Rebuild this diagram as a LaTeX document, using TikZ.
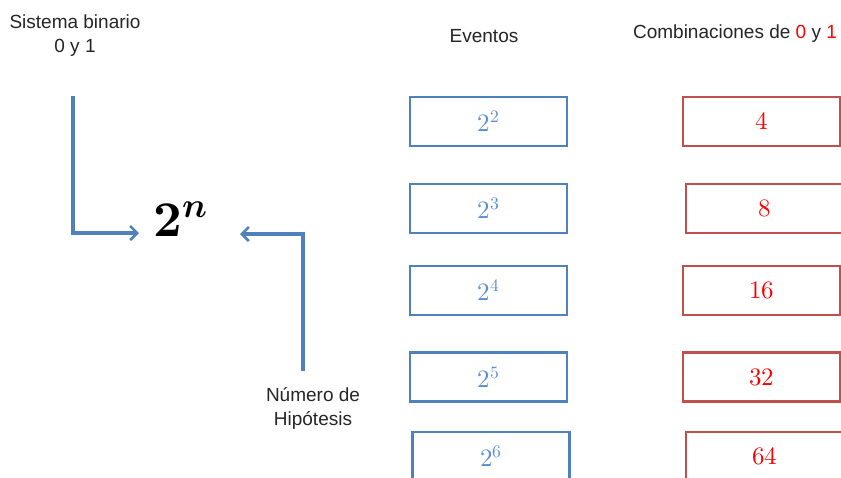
\documentclass[tikz,border=0pt]{standalone}
\usepackage{fontspec}
\usepackage{unicode-math}
\setmathfont{Latin Modern Math}
\setsansfont{Liberation Sans}
\usetikzlibrary{arrows.meta}
\definecolor{boxblue}{HTML}{4F81BD}
\definecolor{txtblue}{HTML}{5B8FD5}
\definecolor{boxred}{HTML}{C0504D}
\definecolor{txtred}{HTML}{FF0000}
\tikzset{
  lbl/.style={font=\sffamily\fontsize{19}{24}\selectfont, align=center, text=black!85},
  bbox/.style={draw=boxblue, line width=2.8pt, minimum width=157pt, minimum height=49pt, inner sep=0pt, text=txtblue, font=\fontsize{25}{29}\selectfont},
  rbox/.style={draw=boxred, line width=2.8pt, minimum width=157pt, minimum height=49pt, inner sep=0pt, text=txtred, font=\fontsize{25}{29}\selectfont},
  arr/.style={draw=boxblue, line width=3.2pt, -{Straight Barb[length=7pt,width=14pt,line width=2.6pt]}}
}
\begin{document}
\begin{tikzpicture}[x=1pt,y=-1pt]
\useasboundingbox (0,0) rectangle (841,477);
\clip (0,0) rectangle (841,477);
\fill[white] (0,0) rectangle (841,477);
% headers
\node[lbl] (sis) at (75,36) {Sistema binario\\0 y 1};
\node[lbl] (ev) at (484,36) {Eventos};
\node[lbl] (comb) at (735,34) {Combinaciones de {\color{txtred}0} y {\color{txtred}1}};
\node[lbl] (hip) at (313,408) {Número de\\Hipótesis};
% 2^n
\node[anchor=base, font=\fontsize{50}{56}\selectfont, inner sep=0pt] (pw) at (181,236) {$\symbf{2}^{\symbfit{n}}$};
% arrows
\coordinate (a1) at (73,96);
\coordinate (a1e) at (139,233);
\draw[arr] (a1) |- (a1e);
\coordinate (a2) at (303,371);
\coordinate (a2e) at (240,234);
\draw[arr] (a2) |- (a2e);
% blue boxes
\node[bbox] (e2) at (488.5,121.5) {$2^2$};
\node[bbox] (e3) at (488.5,208.5) {$2^3$};
\node[bbox] (e4) at (488.5,290.5) {$2^4$};
\node[bbox] (e5) at (488.5,377) {$2^5$};
\node[bbox] (e6) at (491,456.5) {$2^6$};
% red boxes
\node[rbox] (c4) at (761.5,121.5) {$4$};
\node[rbox] (c8) at (764.5,208.5) {$8$};
\node[rbox] (c16) at (761.5,290.5) {$16$};
\node[rbox] (c32) at (761.5,377) {$32$};
\node[rbox] (c64) at (764.5,456.5) {$64$};
\end{tikzpicture}
\end{document}
